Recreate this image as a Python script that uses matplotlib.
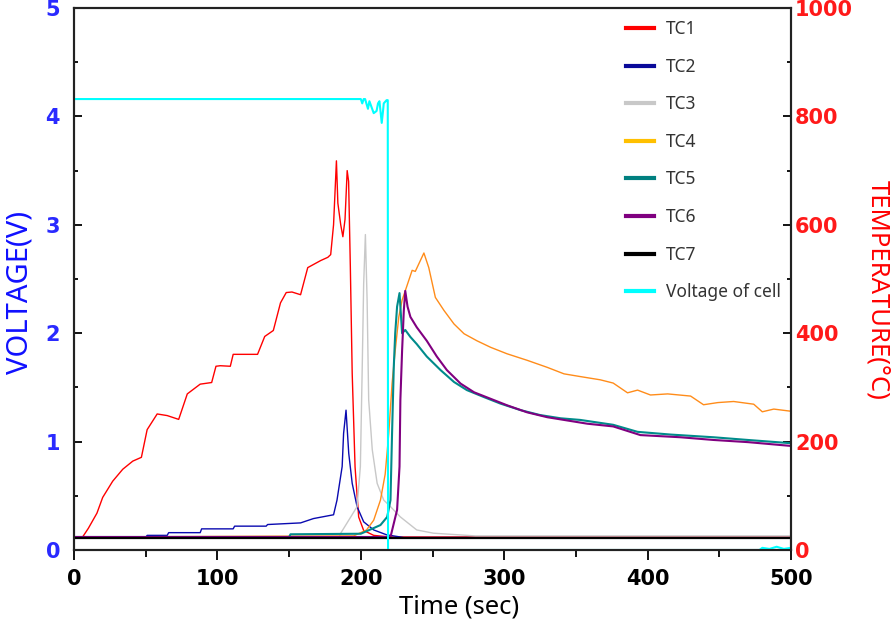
import matplotlib
matplotlib.use("Agg")
import matplotlib.pyplot as plt
from matplotlib.lines import Line2D
from matplotlib.ticker import MultipleLocator

plt.rcParams['font.family'] = ['Noto Sans', 'DejaVu Sans']

# thermocouple readings (time in s, temperature in deg C)
tc1_t = [0, 6, 10, 16, 20, 27, 34, 41, 47, 51, 58, 65, 73, 79, 88, 96, 99, 102, 109, 111,
         116, 128, 133, 139, 144, 148, 152, 158, 163, 172, 177, 179, 181, 183, 184, 186, 187.5,
         189, 190.5, 191.5, 192.7, 194, 196, 198.5, 202, 209, 220, 500]
tc1_T = [24, 24, 40, 68, 97, 127, 149, 164, 171, 222, 251, 248, 241, 288, 306, 309, 339, 340, 339, 361,
         361, 361, 394, 405, 456, 475, 476, 471, 521, 534, 540, 545, 600, 718, 640, 600, 578,
         610, 700, 680, 523, 326, 153, 61, 36, 27, 24, 24]

tc2_t = [0, 50, 51, 65, 66, 88, 89, 111, 112, 134, 135, 158, 167, 181, 183.4, 187, 188, 189.7,
         191.6, 194, 197.4, 202, 209, 218, 230, 500]
tc2_T = [23, 23, 27, 27, 32, 32, 39, 39, 44, 44, 47, 50, 58, 65, 92, 154, 215, 258,
         178, 123, 80, 52, 37, 28, 23, 23]

tc3_t = [0, 185, 186, 193, 197.4, 199.7, 201, 202, 203.2, 204.4, 205.5, 208, 211.4, 216, 220.7,
         227.6, 239, 250.7, 280, 500]
tc3_T = [24, 24, 31, 61, 80, 154, 338, 491, 582, 461, 277, 185, 123, 92, 80,
         61, 37, 31, 26, 26]

tc4_t = [0, 195, 204, 209, 213.7, 217, 219.5, 221.8, 224, 226.5, 228.8, 232, 235.8, 238, 244,
         247.4, 252, 258, 265, 272, 281, 290.5, 302, 316, 330, 341.7, 353, 367, 376, 386, 393,
         402, 414, 430, 439, 449, 460, 474, 480, 488, 500]
tc4_T = [24, 26, 37, 55, 92, 140, 215, 307, 368, 430, 461, 486, 516, 514, 548,
         521, 466, 442, 417, 399, 386, 374, 362, 350, 337, 325, 320, 314, 308, 290, 295,
         286, 288, 284, 268, 272, 274, 269, 255, 260, 256]

tc5_t = [0, 150, 151, 200, 213.7, 218.4, 220.7, 221.8, 223, 224, 225.3, 227, 228.8, 231, 234.6,
         239, 246, 255.6, 265, 274, 286, 297.5, 311.5, 325, 339.4, 353, 376, 393, 416, 446, 470, 500]
tc5_T = [24, 24, 29, 30, 46, 61, 92, 215, 338, 400, 449, 474, 400, 406, 393,
         380, 357, 332, 310, 295, 282, 270, 258, 249, 243, 240, 231, 218, 213, 208, 203, 197]

tc6_t = [0, 220.7, 225.3, 227, 227.6, 228.8, 230, 231, 232.6, 234.6, 239, 246, 253, 260, 269.6,
         279, 290.5, 302, 316, 330, 344, 358, 376, 395, 423, 446, 470, 500]
tc6_T = [24, 24, 74, 154, 277, 368, 442, 478, 449, 430, 411, 386, 357, 332, 307,
         291, 279, 267, 254, 245, 239, 233, 228, 212, 208, 203, 199, 192]

tc7_t = [0, 500]
tc7_T = [22, 22]

# cell voltage (V)
volt_t = [0, 200, 201, 202, 203, 205, 206, 209, 211, 212, 213, 214.6, 215.5, 216, 218, 218.8,
          219, 478, 480, 485, 490, 495, 500]
volt_v = [4.16, 4.16, 4.12, 4.16, 4.16, 4.07, 4.14, 4.03, 4.05, 4.12, 4.14, 3.94, 4.05, 4.12, 4.15, 4.15,
          0.0, 0.0, 0.02, 0.01, 0.03, 0.01, 0.02]

labels = ["TC1", "TC2", "TC3", "TC4", "TC5", "TC6", "TC7", "Voltage of cell"]
line_colors = ["#ff0000", "#0a0ab0", "#c8c8c8", "#ff8c1a", "#008b8b", "#800080", "#000000", "#00ffff"]
legend_colors = ["#ff0000", "#0a0a9a", "#c8c8c8", "#ffc000", "#008080", "#800080", "#000000", "#00ffff"]

fig = plt.figure(figsize=(8.93, 6.2), dpi=100)
ax = fig.add_axes([74 / 893, 70 / 620, 717 / 893, 542 / 620])
ax2 = ax.twinx()

series = [(tc1_t, tc1_T), (tc2_t, tc2_T), (tc3_t, tc3_T), (tc4_t, tc4_T),
          (tc5_t, tc5_T), (tc6_t, tc6_T), (tc7_t, tc7_T)]
widths = [1.0, 1.0, 1.0, 1.0, 1.5, 1.5, 1.6]
for (t, T), c, w in zip(series, line_colors[:7], widths):
    ax2.plot(t, T, color=c, lw=w)

ax.plot(volt_t, volt_v, color=line_colors[7], lw=1.5)
ax.set_zorder(ax2.get_zorder() + 1)
ax.patch.set_visible(False)

ax.set_xlim(0, 500)
ax.set_ylim(0, 5)
ax2.set_ylim(0, 1000)

ax.xaxis.set_major_locator(MultipleLocator(100))
ax.xaxis.set_minor_locator(MultipleLocator(50))
ax.yaxis.set_major_locator(MultipleLocator(1))
ax.yaxis.set_minor_locator(MultipleLocator(0.5))
ax2.yaxis.set_major_locator(MultipleLocator(200))
ax2.yaxis.set_minor_locator(MultipleLocator(100))

ax.tick_params(axis='x', which='major', direction='out', length=7, width=1.3, pad=7,
               labelsize=15, labelcolor='black')
ax.tick_params(axis='x', which='minor', direction='out', length=5, width=1.3)
ax.tick_params(axis='y', which='major', direction='in', length=6, width=1.3, pad=10,
               labelsize=15, labelcolor='#2a2aff')
ax.tick_params(axis='y', which='minor', direction='in', length=3, width=1.3)
ax2.tick_params(axis='y', which='major', direction='in', length=6, width=1.3, pad=3,
                labelsize=15, labelcolor='#ff1a1a')
ax2.tick_params(axis='y', which='minor', direction='in', length=3, width=1.3)

for lab in ax.get_xticklabels() + ax.get_yticklabels() + ax2.get_yticklabels():
    lab.set_fontfamily('DejaVu Sans')
    lab.set_fontweight('bold')

for a in (ax, ax2):
    for s in a.spines.values():
        s.set_linewidth(1.5)
        s.set_color('#222222')

fig.text(20 / 893, 1 - 292 / 620, "VOLTAGE(V)", rotation=90, color='#1010ff',
         fontsize=21, ha='center', va='center')
fig.text(878 / 893, 1 - 290 / 620, "TEMPERATURE(\u00b0C)", rotation=270, color='#ff0000',
         fontsize=18.5, ha='center', va='center')
fig.text(459 / 893, 1 - 607 / 620, "Time (sec)", color='black',
         fontsize=18.5, ha='center', va='center')

handles = [Line2D([], [], color=c, lw=3) for c in legend_colors]
fig.legend(handles, labels, loc='upper left', bbox_to_anchor=(626 / 893, 1 - 20 / 620),
           frameon=False, fontsize=12.5, handlelength=1.6, handletextpad=0.7,
           labelspacing=1.13, borderpad=0, borderaxespad=0, labelcolor='#333333')

fig.savefig("out.png", dpi=100)
